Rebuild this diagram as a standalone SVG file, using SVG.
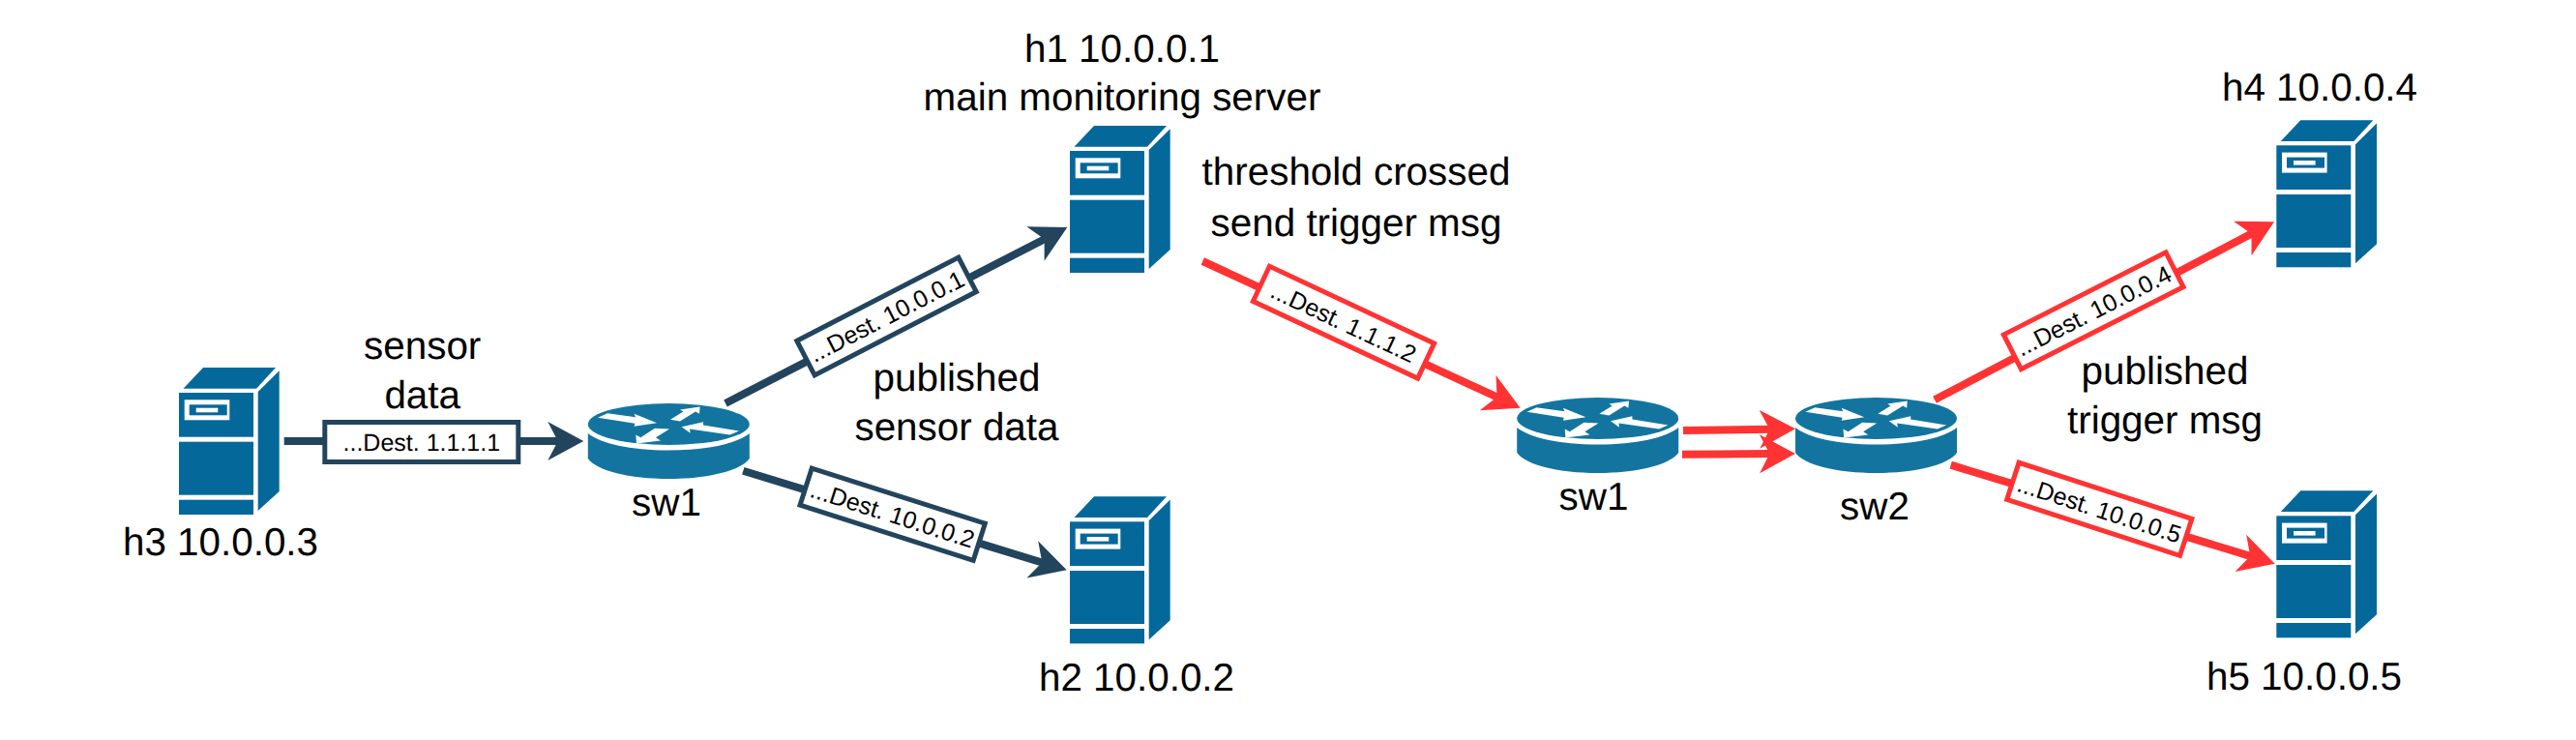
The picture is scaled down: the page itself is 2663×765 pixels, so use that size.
<svg xmlns="http://www.w3.org/2000/svg" xmlns:xlink="http://www.w3.org/1999/xlink" width="2663" height="765" viewBox="0 0 2663 765">
<style>
text{font-family:"Liberation Sans",Arial,sans-serif;fill:#000;text-rendering:geometricPrecision}
.t{font-size:40.400px;text-anchor:middle}
.l{font-size:25px;text-anchor:middle}
.sv{fill:#05689a}
.rt{fill:#13759f}
.w{fill:#fff}
.lk{fill:none;stroke-width:8}
.box{fill:#fff;stroke-width:5}
.dark{stroke:#23445d}
.red{stroke:#ff3333}
</style>
<defs>
<marker id="ad" markerUnits="userSpaceOnUse" markerWidth="40" markerHeight="44" refX="12" refY="22" orient="auto"><path d="M0,2L37,22L0,42L10.4,22z" fill="#23445d"/></marker>
<marker id="ar" markerUnits="userSpaceOnUse" markerWidth="40" markerHeight="44" refX="12" refY="22" orient="auto"><path d="M0,2L37,22L0,42L10.4,22z" fill="#ff3333"/></marker>
<g id="server">
<polygon class="sv" points="4.5,21.7 25,0 100,0 80,21.7"/>
<polygon class="sv" points="81.7,25 103.7,3.3 103.7,128 81.7,148"/>
<rect class="sv" x="0" y="26" width="77" height="45.700"/>
<rect class="sv" x="0" y="76.700" width="77" height="55"/>
<rect class="sv" x="0" y="136.700" width="77" height="15.300"/>
<rect class="w" x="5.700" y="33.300" width="46.600" height="21"/>
<rect class="sv" x="10.700" y="38.300" width="39" height="11"/>
<rect class="w" x="17.700" y="41.700" width="22.600" height="4.600"/>
</g>
<g id="router">
<ellipse class="rt" cx="0" cy="0" rx="83.500" ry="21.500"/>
<path class="rt" d="M-83.500,9.500C-70,20 -40,27 0,27C40,27 70,20 83.500,9.500V35.500C75,48 40,56.500 0,56.500C-40,56.500 -75,48 -83.500,35.500z"/>
<polygon class="w" points="-73.300,-6.700 -63.300,-11.300 -34.300,-7.300 -35.700,-10.700 -12.300,-1.300 -35.700,2.300 -35,-0.700"/>
<polygon class="w" points="1.700,-4.700 15,-13 11.700,-15 32.300,-18 31.700,-10.700 27.700,-13 11.700,-3"/>
<polygon class="w" points="72.700,7 63.300,11 21.700,5 22.300,9.300 13.300,2.700 35.700,-2.300 35.700,1"/>
<polygon class="w" points="0.700,5 -13.300,13.700 -8.300,17 -33.300,20 -34,11 -29,13.700 -14.300,4.300"/>
</g>
</defs>
<rect width="2663" height="765" fill="#fff"/>
<g id="connectors">
<path class="lk dark" marker-end="url(#ad)" d="M293.700,456H578.300"/>
<path class="lk dark" marker-end="url(#ad)" d="M750,417L1081.100,246.500"/>
<path class="lk dark" marker-end="url(#ad)" d="M768.300,486.700L1078.800,582"/>
<path class="lk red" marker-end="url(#ar)" d="M1243.300,270L1549,411.200"/>
<path class="lk red" marker-end="url(#ar)" d="M1740,445L1831,443.700"/>
<path class="lk red" marker-end="url(#ar)" d="M1739,469.700L1831,469.100"/>
<path class="lk red" marker-end="url(#ar)" d="M2000,413.300L2328.900,240.900"/>
<path class="lk red" marker-end="url(#ar)" d="M2016.700,480.700L2327.800,575.400"/>
</g>
<g id="packet-labels">
<g id="pkt-h3" transform="translate(435.800,457)"><rect class="box dark" x="-100" y="-20.500" width="200" height="41"/><text class="l" y="8.700">...Dest. 1.1.1.1</text></g>
<g id="pkt-h1" transform="translate(916.500,327) rotate(-27.300)"><rect class="box dark" x="-94" y="-20" width="188" height="40"/><text class="l" y="8.700">...Dest. 10.0.0.1</text></g>
<g id="pkt-h2" transform="translate(922.700,531.700) rotate(17.700)"><rect class="box dark" x="-94" y="-20" width="188" height="40"/><text class="l" y="8.700">...Dest. 10.0.0.2</text></g>
<g id="pkt-trigger" transform="translate(1389,333.200) rotate(25.100)"><rect class="box red" x="-94" y="-20" width="188" height="40"/><text class="l" y="8.700">...Dest. 1.1.1.2</text></g>
<g id="pkt-h4" transform="translate(2164.200,321.300) rotate(-26.900)"><rect class="box red" x="-94" y="-20" width="188" height="40"/><text class="l" y="8.700">...Dest. 10.0.0.4</text></g>
<g id="pkt-h5" transform="translate(2170.300,526.300) rotate(18)"><rect class="box red" x="-94" y="-20" width="188" height="40"/><text class="l" y="8.700">...Dest. 10.0.0.5</text></g>
</g>
<g id="h3"><use href="#server" transform="translate(185,380)"/><text class="t" x="228" y="574">h3 10.0.0.3</text></g>
<g id="h1"><use href="#server" transform="translate(1106,130)"/><text class="t" x="1160" y="64">h1 10.0.0.1</text><text class="t" x="1160" y="114">main monitoring server</text></g>
<g id="h2"><use href="#server" transform="translate(1106,513.300)"/><text class="t" x="1175" y="714">h2 10.0.0.2</text></g>
<g id="h4"><use href="#server" transform="translate(2353.300,124.300)"/><text class="t" x="2398" y="103.500">h4 10.0.0.4</text></g>
<g id="h5"><use href="#server" transform="translate(2353.300,507.300)"/><text class="t" x="2382" y="713">h5 10.0.0.5</text></g>
<g id="sw1-left"><use href="#router" transform="translate(691.300,438.500)"/><text class="t" x="689" y="533">sw1</text></g>
<g id="sw1-right"><use href="#router" transform="translate(1651.700,432.500)"/><text class="t" x="1647.500" y="526.700">sw1</text></g>
<g id="sw2"><use href="#router" transform="translate(1939.500,432.500)"/><text class="t" x="1938" y="536.700">sw2</text></g>
<g id="captions">
<text class="t" x="436.700" y="370.500">sensor</text>
<text class="t" x="436.700" y="422">data</text>
<text class="t" x="989" y="404">published</text>
<text class="t" x="989" y="455">sensor data</text>
<text class="t" x="1402" y="191">threshold crossed</text>
<text class="t" x="1402" y="243.500">send trigger msg</text>
<text class="t" x="2238" y="396.700">published</text>
<text class="t" x="2238" y="448">trigger msg</text>
</g>
</svg>
